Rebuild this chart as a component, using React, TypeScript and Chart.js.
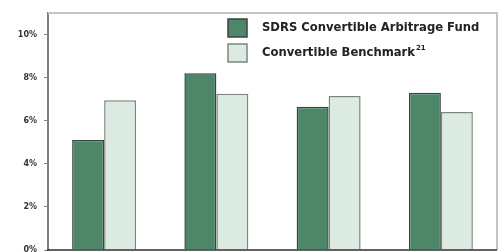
import React, { useEffect, useRef } from "react";
import { Chart, registerables } from "chart.js";

Chart.register(...registerables);

const categories = ["Period 1", "Period 2", "Period 3", "Period 4"];
const fundValues = [5.1, 8.2, 6.65, 7.3];
const benchmarkValues = [6.95, 7.25, 7.15, 6.4];
const seriesNames = ["SDRS Convertible Arbitrage Fund", "Convertible Benchmark"];
const benchmarkSup = "21";
const tickValues = [0, 2, 4, 6, 8, 10];

const legendPlugin = {
  id: "customLegend",
  afterDraw(chart: any) {
    const ctx = chart.ctx;
    const area = chart.chartArea;
    ctx.save();
    // plot frame (top & right light gray)
    ctx.strokeStyle = "#c4c4c4";
    ctx.lineWidth = 2;
    ctx.beginPath();
    ctx.moveTo(area.left, area.top);
    ctx.lineTo(area.right, area.top);
    ctx.lineTo(area.right, area.bottom);
    ctx.stroke();
    // bottom axis line
    ctx.strokeStyle = "#2e2e2e";
    ctx.lineWidth = 1.5;
    ctx.beginPath();
    ctx.moveTo(area.left - 1, area.bottom);
    ctx.lineTo(area.right, area.bottom);
    ctx.stroke();
    // legend
    const items = chart.data.datasets;
    const boxX = 228;
    const boxYs = [19, 44];
    const fnt = "bold 11.6px 'DejaVu Sans'";
    ctx.font = fnt;
    ctx.textBaseline = "middle";
    items.forEach((ds: any, i: number) => {
      const y = boxYs[i];
      ctx.fillStyle = ds.backgroundColor;
      ctx.strokeStyle = ds.borderColor;
      ctx.lineWidth = 1.5;
      ctx.fillRect(boxX, y, 19, 18);
      ctx.strokeRect(boxX, y, 19, 18);
      ctx.fillStyle = "#222";
      const tx = 262;
      const ty = y + 9;
      ctx.fillText(ds.label, tx, ty);
      if (i === 1) {
        const w = ctx.measureText(ds.label).width;
        ctx.font = "bold 7px 'DejaVu Sans'";
        ctx.fillText(benchmarkSup, tx + w + 1, ty - 5);
        ctx.font = fnt;
      }
    });
    ctx.restore();
  },
};

export default function App() {
  const ref = useRef<HTMLCanvasElement>(null);
  useEffect(() => {
    if (!ref.current) return;
    const chart = new Chart(ref.current, {
      type: "bar",
      data: {
        labels: categories,
        datasets: [
          {
            label: seriesNames[0],
            data: fundValues,
            backgroundColor: "#4e8669",
            borderColor: "#34463c",
            borderWidth: 1.5,
            barPercentage: 1,
            categoryPercentage: 0.57,
          },
          {
            label: seriesNames[1],
            data: benchmarkValues,
            backgroundColor: "#dcebe2",
            borderColor: "#7d857f",
            borderWidth: 1.5,
            barPercentage: 1,
            categoryPercentage: 0.57,
          },
        ],
      },
      options: {
        animation: false,
        responsive: false,
        maintainAspectRatio: false,
        layout: { padding: { top: 13, right: 4, bottom: 2, left: 0 } },
        plugins: { legend: { display: false }, tooltip: { enabled: false } },
        scales: {
          x: { display: false },
          y: {
            min: 0,
            max: 11,
            afterBuildTicks: (axis: any) => {
              axis.ticks = tickValues.map((v) => ({ value: v }));
            },
            afterFit: (axis: any) => {
              axis.width = 48;
              axis.paddingTop = 0;
              axis.paddingBottom = 0;
            },
            ticks: {
              callback: (v: any) => v + "%",
              font: { family: "'DejaVu Sans'", size: 8, weight: "bold" },
              color: "#333",
              padding: 7,
            },
            grid: {
              drawOnChartArea: false,
              tickLength: 4,
              tickColor: "#888",
              tickWidth: 1,
            },
            border: { color: "#808080", width: 2 },
          },
        },
      },
      plugins: [legendPlugin],
    });
    return () => chart.destroy();
  }, []);
  return (
    <div style={{ position: "absolute", left: 0, top: 0, width: 501, height: 252, background: "#fff" }}>
      <canvas ref={ref} width={501} height={252} style={{ display: "block" }} />
    </div>
  );
}
